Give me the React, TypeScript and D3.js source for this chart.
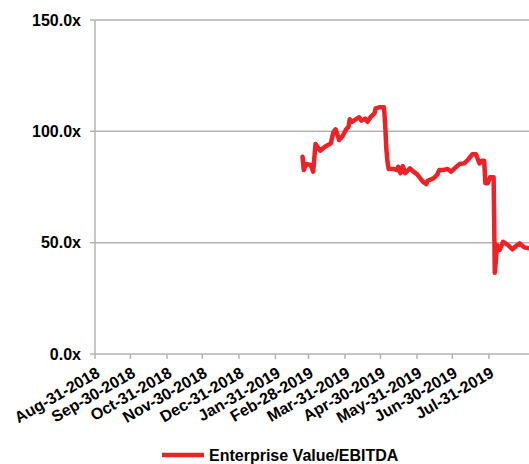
import React from "react";
import * as d3 from "d3";

const seriesName = "Enterprise Value/EBITDA";

const dates: string[] = [
  "2019-02-23", "2019-02-24", "2019-02-26", "2019-03-02", "2019-03-04", "2019-03-06",
  "2019-03-10", "2019-03-14", "2019-03-19", "2019-03-21", "2019-03-23", "2019-03-26",
  "2019-03-29", "2019-04-01", "2019-04-03", "2019-04-04", "2019-04-06", "2019-04-10",
  "2019-04-12", "2019-04-14", "2019-04-17", "2019-04-19", "2019-04-22", "2019-04-25",
  "2019-04-26", "2019-04-29", "2019-05-03", "2019-05-04", "2019-05-05", "2019-05-06",
  "2019-05-07", "2019-05-11", "2019-05-14", "2019-05-15", "2019-05-17", "2019-05-19",
  "2019-05-21", "2019-05-25", "2019-05-28", "2019-05-31", "2019-06-02", "2019-06-05",
  "2019-06-08", "2019-06-09", "2019-06-14", "2019-06-17", "2019-06-19", "2019-06-22",
  "2019-06-26", "2019-06-29", "2019-07-02", "2019-07-06", "2019-07-10", "2019-07-13",
  "2019-07-17", "2019-07-20", "2019-07-23", "2019-07-25", "2019-07-27", "2019-07-28",
  "2019-07-30", "2019-08-01", "2019-08-04", "2019-08-05", "2019-08-07", "2019-08-09",
  "2019-08-12", "2019-08-16", "2019-08-20", "2019-08-23", "2019-08-26", "2019-08-30",
  "2019-09-03",
];

const values: number[] = [
  88.6, 82.6, 85.3, 84.9, 81.9, 94.3,
  91.3, 93.1, 94.6, 99.4, 100.9, 96.1,
  97.9, 100.9, 102.1, 105.4, 104.3, 105.7,
  106.3, 104.8, 105.7, 104.3, 106.6, 108.1,
  110.3, 110.8, 110.8, 103.7, 92.4, 86.4,
  83.1, 83.1, 82.6, 84.1, 81.2, 84.4,
  81.2, 83.4, 81.9, 80.8, 79.4, 77.4,
  76.3, 77.8, 78.9, 80.4, 82.6, 82.6,
  83.1, 81.9, 83.4, 85.3, 85.6, 87.1,
  89.7, 89.7, 85.6, 86.8, 86.8, 76.7,
  76.7, 79.4, 79.4, 36.5, 49.0, 46.7,
  50.4, 49.0, 47.0, 48.5, 49.7, 47.9,
  47.5,
];

const xTickDates: string[] = [
  "2018-08-31", "2018-09-30", "2018-10-31", "2018-11-30", "2018-12-31", "2019-01-31",
  "2019-02-28", "2019-03-31", "2019-04-30", "2019-05-31", "2019-06-30", "2019-07-31",
];
const xTickLabels: string[] = [
  "Aug-31-2018", "Sep-30-2018", "Oct-31-2018", "Nov-30-2018", "Dec-31-2018", "Jan-31-2019",
  "Feb-28-2019", "Mar-31-2019", "Apr-30-2019", "May-31-2019", "Jun-30-2019", "Jul-31-2019",
];
const yTicks: number[] = [0, 50, 100, 150];
const xDomain: string[] = ["2018-08-31", "2019-09-03"];

const parse = d3.utcParse("%Y-%m-%d");

export default function App() {
  const W = 529;
  const H = 464;
  const left = 95;
  const right = 529;
  const top = 20;
  const bottom = 354;

  const x = d3
    .scaleUtc()
    .domain([parse(xDomain[0])!, parse(xDomain[1])!])
    .range([left, right]);
  const y = d3.scaleLinear().domain([0, 150]).range([bottom, top]);

  const data = dates.map((d, i) => ({ date: parse(d)!, value: values[i] }));
  const line = d3
    .line<{ date: Date; value: number }>()
    .x((d) => x(d.date))
    .y((d) => y(d.value));

  const font = "'Liberation Sans', Arial, sans-serif";
  const gridColor = "#b3b3b3";
  const red = "#ec2227";

  return (
    <svg
      width={W}
      height={H}
      style={{ position: "absolute", left: 0, top: 0, background: "#fff" }}
      fontFamily={font}
    >
      {yTicks.map((t) => (
        <g key={"y" + t}>
          {t > 0 && (
            <line x1={90} x2={right} y1={y(t)} y2={y(t)} stroke={gridColor} strokeWidth={1.5} />
          )}
          {t === 0 && <line x1={90} x2={left} y1={y(t)} y2={y(t)} stroke={gridColor} strokeWidth={1.5} />}
          <text
            x={81}
            y={y(t)}
            dy="0.36em"
            textAnchor="end"
            fontSize={16}
            fontWeight="bold"
            fill="#000"
          >
            {d3.format(".1f")(t) + "x"}
          </text>
        </g>
      ))}
      <line x1={left} x2={left} y1={top} y2={bottom} stroke={gridColor} strokeWidth={1.5} />
      <line x1={left} x2={right} y1={bottom} y2={bottom} stroke={gridColor} strokeWidth={1.5} />
      {xTickDates.map((d, i) => {
        const xp = x(parse(d)!);
        return (
          <g key={d}>
            <line x1={xp} x2={xp} y1={bottom} y2={bottom + 5} stroke={gridColor} strokeWidth={1.5} />
            <text
              transform={`translate(${xp + 6},${bottom + 22}) rotate(-30)`}
              textAnchor="end"
              fontSize={16}
              fontWeight="bold"
              fill="#000"
            >
              {xTickLabels[i]}
            </text>
          </g>
        );
      })}
      <path
        d={line(data) || ""}
        fill="none"
        stroke={red}
        strokeWidth={4.5}
        strokeLinejoin="round"
        strokeLinecap="round"
      />
      <line x1={162} x2={204} y1={455} y2={455} stroke={red} strokeWidth={4.5} />
      <text x={209} y={455} dy="0.36em" fontSize={16} fontWeight="bold" fill="#000">
        {seriesName}
      </text>
    </svg>
  );
}
